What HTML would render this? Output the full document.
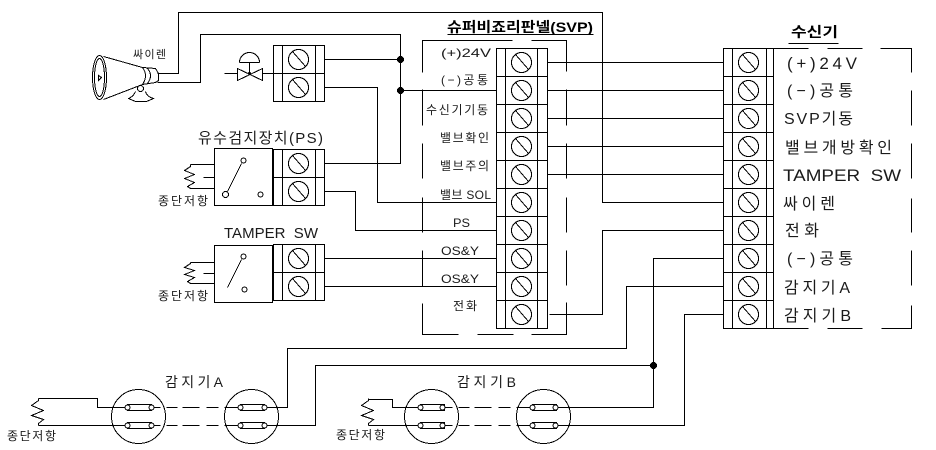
<!DOCTYPE html>
<html><head><meta charset="utf-8"><style>
html,body{margin:0;padding:0;background:#fff}
svg{display:block}
text{font-family:"Liberation Sans","Noto Sans CJK KR",sans-serif;fill:#1a1a1a;white-space:pre}
.t{font-size:11px}.k{font-size:12px}.s{font-size:12px}.m{font-size:14px}.n{font-size:16px}.h{font-size:15px}.l{font-size:17px}
.b{font-size:14px;font-weight:bold;fill:#000}
</style></head><body>
<svg width="936" height="450" viewBox="0 0 936 450" xmlns="http://www.w3.org/2000/svg">
<defs>
<g id="sc"><circle r="10" fill="none"/><line x1="-6" y1="-8" x2="7" y2="7"/></g>
<g id="zz"><polyline fill="none" points="0,0 0,2 -7,7 5,12 -7,17 5,21 0,25 0,27"/></g>
</defs>
<g transform="translate(.5,.5)" fill="none" stroke="#000" stroke-width="1" shape-rendering="crispEdges">
<!-- wires -->
<polyline points="157,73 178,73 178,12 602,12 602,202 723,202"/>
<polyline points="157,82 200,82 200,34 400,34 400,163 324,163"/>
<line x1="324" y1="59" x2="400" y2="59"/>
<line x1="400" y1="90" x2="496" y2="90"/>
<polyline points="324,87 377,87 377,202 496,202"/>
<polyline points="324,191 355,191 355,230 496,230"/>
<line x1="324" y1="258" x2="496" y2="258"/>
<line x1="324" y1="286" x2="496" y2="286"/>
<line x1="547" y1="62" x2="723" y2="62"/>
<line x1="547" y1="90" x2="723" y2="90"/>
<line x1="547" y1="118" x2="723" y2="118"/>
<line x1="547" y1="146" x2="723" y2="146"/>
<line x1="547" y1="174" x2="723" y2="174"/>
<polyline points="549,314 602,314 602,230 723,230"/>
<polyline points="723,258 653,258 653,407 557,407"/>
<polyline points="723,286 626,286 626,348 287,348 287,407 265,407"/>
<polyline points="723,314 684,314 684,425 557,425"/>
<polyline points="653,365 315,365 315,425 265,425"/>
<!-- SVP box -->
<path d="M422,72V40H512M531,40H566V71M566,89V125M566,143V178M566,197V232M566,250V285M566,302V334H531M513,334H477M458,334H422V303M422,286V250M422,232V197M422,178V143M422,125V89"/>
<!-- Receiver box -->
<path d="M773,48H808M827,48H862M880,48H911V72M911,90V125M911,143V178M911,198V232M911,250V285M911,305V328H881M862,328H827M808,328H773"/>
<!-- SVP terminal -->
<g fill="#fff">
<rect x="496" y="48" width="51" height="280"/>
<rect x="723" y="48" width="50" height="280"/>
</g>
<path d="M505,48V328M537,48V328M496,76H547M496,104H547M496,132H547M496,160H547M496,188H547M496,216H547M496,244H547M496,272H547M496,300H547"/>
<path d="M732,48V328M766,48V328M723,76H773M723,104H773M723,132H773M723,160H773M723,188H773M723,216H773M723,244H773M723,272H773M723,300H773"/>
<use href="#sc" x="521" y="62"/><use href="#sc" x="521" y="90"/><use href="#sc" x="521" y="118"/><use href="#sc" x="521" y="146"/><use href="#sc" x="521" y="174"/><use href="#sc" x="521" y="202"/><use href="#sc" x="521" y="230"/><use href="#sc" x="521" y="258"/><use href="#sc" x="521" y="286"/><use href="#sc" x="521" y="314"/>
<use href="#sc" x="748" y="62"/><use href="#sc" x="748" y="90"/><use href="#sc" x="748" y="118"/><use href="#sc" x="748" y="146"/><use href="#sc" x="748" y="174"/><use href="#sc" x="748" y="202"/><use href="#sc" x="748" y="230"/><use href="#sc" x="748" y="258"/><use href="#sc" x="748" y="286"/><use href="#sc" x="748" y="314"/>
<!-- left terminals -->
<g fill="#fff">
<rect x="273" y="45" width="51" height="56"/>
<rect x="273" y="149" width="51" height="56"/>
<rect x="273" y="244" width="51" height="56"/>
</g>
<path d="M282,45V101M315,45V101M273,73H324M282,149V205M315,149V205M273,177H324M282,244V300M315,244V300M273,272H324"/>
<use href="#sc" x="298" y="59"/><use href="#sc" x="298" y="87"/>
<use href="#sc" x="298" y="163"/><use href="#sc" x="298" y="191"/>
<use href="#sc" x="298" y="258"/><use href="#sc" x="298" y="286"/>
<!-- siren -->
<ellipse cx="99" cy="77" rx="7" ry="22"/>
<ellipse cx="99" cy="77" rx="5" ry="19"/>
<path d="M98,75L101,77L98,80Z"/>
<path d="M103,56L142,67M103,99L142,84M142,67Q148,75 142,84M147,68Q153,75 147,83M142,67L155,68L158,73V80L155,82L142,84"/>
<circle cx="140" cy="88" r="3"/>
<path d="M135,91Q133,96 128,98L135,101H146L153,98Q146,96 145,91"/>
<!-- valve -->
<path d="M224,73H237M237,68V80L262,68V80ZM249,73V62M239,62H259M239,62A10,10 0 0 1 259,62M262,73H273"/>
<circle cx="249" cy="73" r="1" fill="#000"/>
<!-- PS switch -->
<rect x="214" y="148" width="58" height="57"/>
<circle cx="243" cy="160" r="2.5"/><circle cx="225" cy="194" r="3"/><circle cx="260" cy="194" r="2.5"/>
<line x1="241" y1="163" x2="227" y2="191"/>
<path d="M214,164H190M214,177H203M214,188H190"/>
<polyline points="190,164 190,166 184,170 194,174 184,178 194,182 187,186 190,188"/>
<!-- Tamper switch -->
<rect x="214" y="245" width="58" height="57"/>
<circle cx="243" cy="256" r="2.5"/><circle cx="244" cy="289" r="2.5"/>
<line x1="241" y1="259" x2="227" y2="287"/>
<path d="M214,262H190M214,273H203M214,283H190"/>
<polyline points="190,262 190,263 184,267 194,270 184,274 194,277 187,281 190,283"/>
<!-- detectors -->
<circle cx="138" cy="416" r="27"/><circle cx="251" cy="416" r="27"/>
<circle cx="431" cy="416" r="27"/><circle cx="543" cy="416" r="27"/>
<polyline points="38,398 97,398 97,407 125,407"/>
<line x1="38" y1="425" x2="125" y2="425"/>
<use href="#zz" x="38" y="398"/>
<polyline points="368,399 392,399 392,407 417,407"/>
<line x1="368" y1="425" x2="417" y2="425"/>
<use href="#zz" x="368" y="398"/>
<path d="M153,407H160M166,407H177M182,407H199M206,407H218M224,407H237M153,425H160M166,425H177M182,425H199M206,425H218M224,425H237"/>
<path d="M445,407H452M458,407H469M474,407H491M498,407H510M516,407H529M445,425H452M458,425H469M474,425H491M498,425H510M516,425H529"/>
<g fill="#fff">
<rect x="127" y="404" width="24" height="6"/><rect x="127" y="422" width="24" height="6"/>
<rect x="240" y="404" width="24" height="6"/><rect x="240" y="422" width="24" height="6"/>
<rect x="420" y="404" width="24" height="6"/><rect x="420" y="422" width="24" height="6"/>
<rect x="532" y="404" width="24" height="6"/><rect x="532" y="422" width="24" height="6"/>
<circle cx="127" cy="407" r="2.5"/><circle cx="151" cy="407" r="2.5"/><circle cx="127" cy="425" r="2.5"/><circle cx="151" cy="425" r="2.5"/>
<circle cx="240" cy="407" r="2.5"/><circle cx="264" cy="407" r="2.5"/><circle cx="240" cy="425" r="2.5"/><circle cx="264" cy="425" r="2.5"/>
<circle cx="420" cy="407" r="2.5"/><circle cx="442" cy="407" r="2.5"/><circle cx="420" cy="425" r="2.5"/><circle cx="442" cy="425" r="2.5"/>
<circle cx="532" cy="407" r="2.5"/><circle cx="555" cy="407" r="2.5"/><circle cx="532" cy="425" r="2.5"/><circle cx="555" cy="425" r="2.5"/>
</g>
<!-- underlines -->
<line x1="447" y1="34" x2="593" y2="34"/>
<line x1="788" y1="43" x2="838" y2="43"/>
<!-- dots -->
<g fill="#000">
<circle cx="400" cy="59" r="3"/><circle cx="400" cy="90" r="3"/><circle cx="653" cy="365" r="3"/>
</g>
</g>
<g>
<text class="t" x="133" y="58" textLength="33" lengthAdjust="spacing">싸이렌</text>
<text class="b" x="447" y="32" textLength="146" lengthAdjust="spacingAndGlyphs">슈퍼비죠리판넬(SVP)</text>
<text class="b" x="791" y="37" textLength="47" lengthAdjust="spacingAndGlyphs">수신기</text>
<text class="h" x="198" y="143" textLength="125" lengthAdjust="spacing">유수검지장치(PS)</text>
<text class="h" x="224" y="238" textLength="94" lengthAdjust="spacingAndGlyphs">TAMPER  SW</text>
<text class="k" x="158" y="205" textLength="50" lengthAdjust="spacing">종단저항</text>
<text class="k" x="158" y="300" textLength="50" lengthAdjust="spacing">종단저항</text>
<text class="s" x="441" y="57" textLength="50" lengthAdjust="spacingAndGlyphs">(+)24V</text>
<text class="k" x="441" y="84" textLength="47" lengthAdjust="spacing">(−)공통</text>
<text class="k" x="426" y="114" textLength="62" lengthAdjust="spacing">수신기기동</text>
<text class="k" x="440" y="142" textLength="49" lengthAdjust="spacing">밸브확인</text>
<text class="k" x="440" y="170" textLength="49" lengthAdjust="spacing">밸브주의</text>
<text class="k" x="440" y="199" textLength="51" lengthAdjust="spacing">밸브 SOL</text>
<text class="s" x="453" y="227" textLength="17" lengthAdjust="spacingAndGlyphs">PS</text>
<text class="s" x="441" y="255" textLength="38" lengthAdjust="spacingAndGlyphs">OS&amp;Y</text>
<text class="s" x="441" y="283" textLength="38" lengthAdjust="spacingAndGlyphs">OS&amp;Y</text>
<text class="k" x="453" y="310" textLength="24" lengthAdjust="spacing">전화</text>
<text class="l" x="787" y="69" textLength="70" lengthAdjust="spacing">(+)24V</text>
<text class="n" x="787" y="96" textLength="66" lengthAdjust="spacing">(−)공통</text>
<text class="n" x="784" y="124" textLength="69" lengthAdjust="spacing">SVP기동</text>
<text class="n" x="785" y="153" textLength="107" lengthAdjust="spacing">밸브개방확인</text>
<text class="l" x="783" y="181" textLength="118" lengthAdjust="spacingAndGlyphs">TAMPER  SW</text>
<text class="n" x="783" y="209" textLength="52" lengthAdjust="spacing">싸이렌</text>
<text class="n" x="785" y="236" textLength="34" lengthAdjust="spacing">전화</text>
<text class="n" x="787" y="264" textLength="66" lengthAdjust="spacing">(−)공통</text>
<text class="n" x="784" y="293" textLength="66" lengthAdjust="spacing">감지기A</text>
<text class="n" x="784" y="321" textLength="67" lengthAdjust="spacing">감지기B</text>
<text class="m" x="165" y="387" textLength="58" lengthAdjust="spacing">감지기A</text>
<text class="m" x="457" y="387" textLength="59" lengthAdjust="spacing">감지기B</text>
<text class="k" x="7" y="440" textLength="49" lengthAdjust="spacing">종단저항</text>
<text class="k" x="336" y="439" textLength="49" lengthAdjust="spacing">종단저항</text>
</g>
</svg>
</body></html>
